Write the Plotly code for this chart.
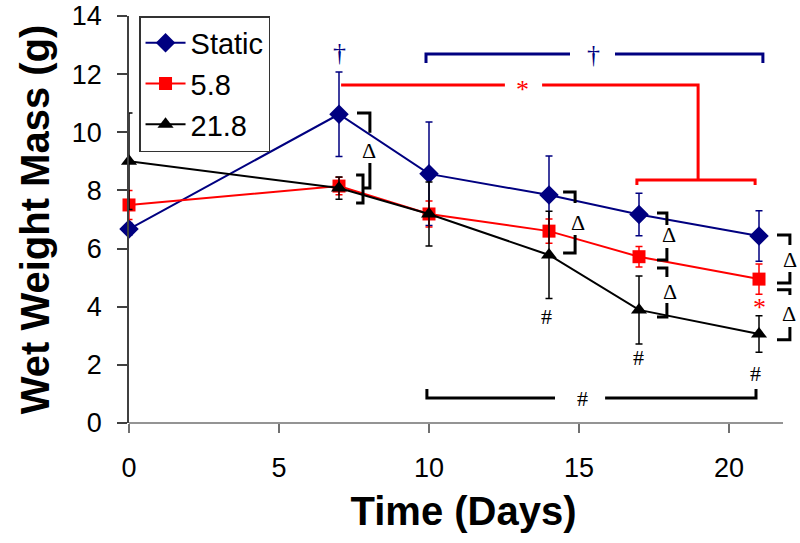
import plotly.graph_objects as go

# ---------------- data ----------------
days = [0, 7, 10, 14, 17, 21]

static_mean = [6.67, 10.62, 8.57, 7.84, 7.17, 6.43]
static_err = [0.2, 1.45, 1.78, 1.34, 0.73, 0.87]

r58_mean = [7.50, 8.15, 7.19, 6.60, 5.72, 4.95]
r58_err = [0.50, 0.30, 0.45, 0.42, 0.35, 0.52]

r218_mean = [9.00, 8.08, 7.19, 5.78, 3.89, 3.06]
r218_err = [1.66, 0.38, 1.10, 1.50, 1.17, 0.63]

series_names = ["Static", "5.8", "21.8"]
x_ticks = [0, 5, 10, 15, 20]
y_ticks = [0, 2, 4, 6, 8, 10, 12, 14]

# significance annotations (data coordinates)
blue_br_x = [[9.9, 9.9, 14.7], [16.2, 21.13, 21.13]]
blue_br_y = [[12.38, 12.69, 12.69], [12.69, 12.69, 12.38]]
red_br_x = [[7.07, 12.53], [13.77, 18.97, 18.97], [16.93, 16.93, 20.87, 20.87]]
red_br_y = [[11.63, 11.63], [11.63, 11.63, 8.36], [8.19, 8.36, 8.36, 8.19]]
black_br_x = [[9.93, 9.93, 14.2], [15.87, 20.9, 20.9]]
black_br_y = [[1.17, 0.86, 0.86], [0.86, 0.86, 1.17]]

delta_br_x = [
    [7.6, 8.03, 8.03], [8.03, 8.03, 7.8], [7.57, 7.8, 7.8, 7.57],
    [14.47, 14.87, 14.87], [14.87, 14.87, 14.47],
    [17.6, 17.93, 17.93], [17.93, 17.93, 17.6],
    [17.6, 17.93, 17.93], [17.93, 17.93, 17.6],
    [21.6, 22.03, 22.03], [22.03, 22.03, 21.6],
    [21.6, 22.03, 22.03], [22.03, 22.03, 21.6],
]
delta_br_y = [
    [10.66, 10.66, 9.98], [8.94, 8.08, 8.08], [8.53, 8.53, 7.57, 7.57],
    [7.95, 7.95, 7.57], [6.47, 5.85, 5.85],
    [7.22, 7.22, 6.81], [6.02, 5.61, 5.61],
    [5.33, 5.33, 5.02], [4.13, 3.65, 3.65],
    [6.47, 6.47, 6.12], [5.19, 4.82, 4.82],
    [4.58, 4.58, 4.40], [3.30, 2.86, 2.86],
]
delta_pos_x = [8.0, 14.97, 18.0, 18.03, 22.03, 22.0]
delta_pos_y = [9.39, 6.91, 6.47, 4.51, 5.61, 3.78]

dagger_x = [7.0, 15.47]
dagger_y = [12.73, 12.69]
red_star_x = [13.13, 21.0]
red_star_y = [11.63, 4.13]
hash_x = [13.93, 16.97, 20.87, 15.13]
hash_y = [3.68, 2.24, 1.72, 0.86]

x_axis_end = 21.8

# ---------------- styles ----------------
BLUE = "#000080"
RED = "#ff0000"
BLACK = "#000000"
FONT = "Liberation Sans, Arial, sans-serif"
SERIF = "Liberation Serif, Times New Roman, serif"

fig = go.Figure()

def add_series(name, y, err, color, symbol, size, group):
    fig.add_trace(go.Scatter(
        x=days, y=y, name=name, mode="lines+markers",
        legendgroup=group,
        line=dict(color=color, width=2),
        marker=dict(color=color, symbol=symbol, size=size),
        error_y=dict(type="data", array=err, visible=True,
                     color=color, thickness=1.5, width=3.5),
        cliponaxis=False,
    ))

add_series(series_names[0], static_mean, static_err, BLUE, "diamond", 15, "a")
add_series(series_names[1], r58_mean, r58_err, RED, "square", 13, "b")
add_series(series_names[2], r218_mean, r218_err, BLACK, "triangle-up", 14, "c")

def path_from(xs, ys):
    return "M " + " L ".join(f"{x},{y}" for x, y in zip(xs, ys))

shapes = []
for xs, ys in zip(blue_br_x, blue_br_y):
    shapes.append(dict(type="path", path=path_from(xs, ys), xref="x", yref="y",
                       line=dict(color=BLUE, width=3)))
for xs, ys in zip(red_br_x, red_br_y):
    shapes.append(dict(type="path", path=path_from(xs, ys), xref="x", yref="y",
                       line=dict(color=RED, width=3)))
for xs, ys in zip(black_br_x, black_br_y):
    shapes.append(dict(type="path", path=path_from(xs, ys), xref="x", yref="y",
                       line=dict(color=BLACK, width=3)))
for xs, ys in zip(delta_br_x, delta_br_y):
    shapes.append(dict(type="path", path=path_from(xs, ys), xref="x", yref="y",
                       line=dict(color=BLACK, width=3)))
# x axis line (ends before the plotting extent)
shapes.append(dict(type="line", xref="x", yref="paper", x0=0, x1=x_axis_end, y0=0, y1=0,
                   line=dict(color="#707070", width=1.5)))

annotations = []
for x, y in zip(delta_pos_x, delta_pos_y):
    annotations.append(dict(x=x, y=y, text="Δ", showarrow=False,
                            font=dict(family=SERIF, size=22, color=BLACK)))
for x, y in zip(dagger_x, dagger_y):
    annotations.append(dict(x=x, y=y, text="†", showarrow=False,
                            font=dict(family=SERIF, size=26, color=BLUE)))
for x, y in zip(red_star_x, red_star_y):
    annotations.append(dict(x=x, y=y, text="*", showarrow=False, yshift=-5,
                            font=dict(family=SERIF, size=26, color=RED)))
for x, y in zip(hash_x, hash_y):
    annotations.append(dict(x=x, y=y, text="#", showarrow=False,
                            font=dict(family=SERIF, size=22, color=BLACK)))

fig.update_layout(
    width=800, height=543,
    margin=dict(l=129, r=2, t=16, b=120),
    paper_bgcolor="white", plot_bgcolor="white",
    font=dict(family=FONT, color=BLACK),
    shapes=shapes, annotations=annotations,
    showlegend=True,
    legend=dict(
        x=0.015, y=1.0, xanchor="left", yanchor="top",
        bordercolor="#333333", borderwidth=1.5, bgcolor="white",
        font=dict(family=FONT, size=29, color=BLACK),
        traceorder="grouped", tracegroupgap=0,
        itemwidth=40,
    ),
    xaxis=dict(
        range=[0, 22.3], tickvals=x_ticks, ticktext=[str(v) for v in x_ticks],
        showgrid=False, zeroline=False, showline=False, automargin=False,
        ticks="outside", ticklen=9, tickwidth=1.5, tickcolor="#707070",
        tickfont=dict(family=FONT, size=27, color=BLACK),
        ticklabelstandoff=12,
        title=dict(text="<b>Time (Days)</b>", font=dict(family=FONT, size=40, color=BLACK),
                   standoff=14),
    ),
    yaxis=dict(
        range=[0, 14], tickvals=y_ticks, ticktext=[str(v) for v in y_ticks],
        showgrid=False, zeroline=False, showline=True, linecolor="#404040", linewidth=1.5,
        automargin=False,
        ticks="outside", ticklen=10, tickwidth=1.5, tickcolor="#404040",
        tickfont=dict(family=FONT, size=27, color=BLACK),
        ticklabelstandoff=10,
        title=dict(text="<b>Wet Weight Mass (g)</b>", font=dict(family=FONT, size=40, color=BLACK),
                   standoff=10),
    ),
)

fig.write_html("out.html",
               config={"displayModeBar": False},
               post_script="document.body.style.margin='0';document.body.style.overflow='hidden';")
